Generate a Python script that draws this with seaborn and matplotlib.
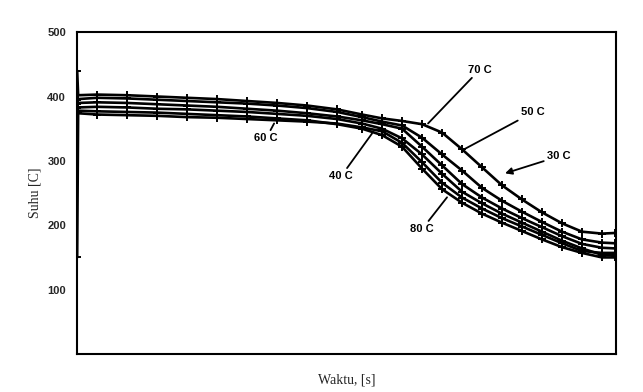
import numpy as np
import pandas as pd
import matplotlib
matplotlib.use("Agg")
import matplotlib.pyplot as plt
import seaborn as sns

waktu = [0, 1, 20, 50, 80, 110, 140, 170, 200, 230, 260, 285, 305, 325, 345,
         365, 385, 405, 425, 445, 465, 485, 505, 525, 538]

suhu_50 = [440, 402, 403, 402, 400, 398, 396, 393, 390, 386, 380, 372, 366, 362, 357,
           344, 318, 290, 262, 240, 220, 203, 190, 187, 188]
suhu_30 = [395, 396, 398, 397, 395, 393, 391, 389, 386, 382, 376, 368, 361, 355, 336,
           310, 285, 258, 238, 221, 205, 190, 178, 173, 172]
suhu_70 = [388, 390, 391, 390, 388, 386, 384, 381, 378, 374, 369, 363, 357, 350, 322,
           293, 264, 243, 226, 211, 197, 183, 171, 165, 164]
suhu_60 = [382, 383, 384, 383, 381, 380, 378, 376, 373, 370, 365, 358, 350, 335, 310,
           280, 252, 234, 218, 204, 190, 176, 164, 154, 153]
suhu_40 = [150, 378, 377, 376, 375, 373, 371, 369, 366, 363, 357, 350, 340, 322, 288,
           256, 235, 218, 204, 191, 178, 166, 157, 150, 150]
suhu_80 = [374, 374, 372, 371, 370, 368, 367, 365, 363, 361, 358, 352, 346, 328, 298,
           266, 243, 226, 211, 198, 185, 172, 160, 157, 157]

series = {"30 C": suhu_30, "40 C": suhu_40, "50 C": suhu_50,
          "60 C": suhu_60, "70 C": suhu_70, "80 C": suhu_80}

rows = []
for name, vals in series.items():
    for t, v in zip(waktu, vals):
        rows.append({"Waktu": t, "Suhu": v, "Seri": name})
df = pd.DataFrame(rows)

sns.set_style("white")
plt.rcParams["font.family"] = ["DejaVu Sans"]

fig = plt.figure(figsize=(6.43, 3.92), dpi=100)
ax = fig.add_axes([0.12, 0.097, 0.838, 0.821])

sns.lineplot(data=df, x="Waktu", y="Suhu", hue="Seri", palette=["black"] * 6,
             legend=False, ax=ax, linewidth=1.9, marker="+", markersize=6,
             markeredgewidth=1.4, markeredgecolor="black", sort=False)

ax.set_xlim(0, 539)
ax.set_ylim(0, 500)
ax.set_yticks([100, 200, 300, 400, 500])
ax.set_yticklabels(["100", "200", "300", "400", "500"], fontsize=8,
                   fontweight="bold", family="Liberation Sans")
ax.set_xticks([])
ax.tick_params(axis="y", length=0, pad=8)
for s in ax.spines.values():
    s.set_color("black")
    s.set_linewidth(1.5)

ax.set_xlabel("Waktu, [s]", family="Liberation Serif", fontsize=10, labelpad=14)
ax.set_ylabel("Suhu [C]", family="Liberation Serif", fontsize=10, labelpad=4)

lab_kw = dict(fontsize=8, fontweight="bold", family="Liberation Sans", color="black")
line_kw = dict(arrowstyle="-", color="black", lw=1.3, shrinkA=0, shrinkB=0)

def px(x, y):
    return ((x - 77), (354 - y) / 0.645)

ax.annotate("70 C", xy=px(428, 123), xytext=px(468, 69), ha="left", va="center",
            arrowprops=line_kw, **lab_kw)
ax.annotate("50 C", xy=px(462, 150), xytext=px(521, 112), ha="left", va="center",
            arrowprops=line_kw, **lab_kw)
ax.annotate("30 C", xy=px(505, 173), xytext=px(547, 156), ha="left", va="center",
            arrowprops=dict(arrowstyle="-|>", color="black", lw=1.3, shrinkA=0,
                            shrinkB=0, mutation_scale=10), **lab_kw)
ax.annotate("80 C", xy=px(447, 197), xytext=px(422, 229), ha="center", va="center",
            arrowprops=line_kw, **lab_kw)
ax.annotate("40 C", xy=px(372, 133), xytext=px(341, 176), ha="center", va="center",
            arrowprops=line_kw, **lab_kw)
ax.annotate("60 C", xy=px(274, 123), xytext=px(266, 138), ha="center", va="center",
            arrowprops=line_kw, **lab_kw)

fig.savefig("out.png", dpi=100, facecolor="white")
